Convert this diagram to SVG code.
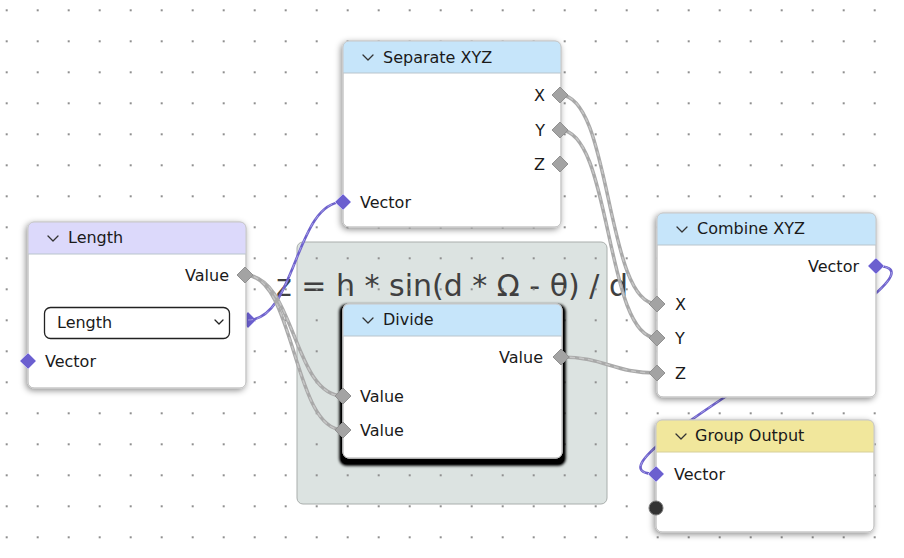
<svg xmlns="http://www.w3.org/2000/svg" xmlns:xlink="http://www.w3.org/1999/xlink" width="904" height="558" viewBox="0 0 904 558">
<defs>
<style>
text{font-family:"DejaVu Sans","Liberation Sans",sans-serif;font-size:16px;fill:#1a1a1a}
.title{font-size:16px}
.r{text-anchor:end}
.body{fill:#fff;stroke:#c8c8c8;stroke-width:1}
.edge{fill:none;stroke:#c8c8c8;stroke-width:1}
.sep{stroke:#b9c4cc;stroke-width:1}
.chev{fill:none;stroke:#333;stroke-width:1.3;stroke-linecap:round;stroke-linejoin:round}
.hl{fill:#dcd9fb}
.hb{fill:#c6e5fa}
.hy{fill:#f1e79c}
.sg{fill:#a3a3a3;stroke:#919191;stroke-width:1}
.sp{fill:#6b5fcf;stroke:#bdb8ef;stroke-width:1}
.cg{fill:none;stroke:#a9a9a9;stroke-width:3.5}
.cgd{fill:none;stroke:#c6c6c6;stroke-width:1.4;stroke-dasharray:5 4}
.cp{fill:none;stroke:#6e62cc;stroke-width:2.6}
.cpd{fill:none;stroke:#a49ce6;stroke-width:1;stroke-dasharray:5 4}
</style>
<pattern id="grid" x="5.7" y="9.3" width="31" height="31" patternUnits="userSpaceOnUse">
<rect x="0" y="0" width="2" height="2" fill="#8f8f8f"/>
</pattern>
<filter id="sh" x="-20%" y="-20%" width="140%" height="140%">
<feDropShadow dx="-1.5" dy="2" stdDeviation="3" flood-color="#000" flood-opacity="0.45"/>
</filter>
<filter id="shsel" x="-20%" y="-20%" width="140%" height="140%">
<feMorphology in="SourceAlpha" operator="dilate" radius="2.5" result="d"/>
<feOffset in="d" dx="0" dy="4" result="o"/>
<feGaussianBlur in="o" stdDeviation="1.8" result="b"/>
<feComponentTransfer in="b" result="c"><feFuncA type="linear" slope="1.2"/></feComponentTransfer>
<feMerge><feMergeNode in="c"/><feMergeNode in="SourceGraphic"/></feMerge>
</filter>
<path id="dia" d="M0,-8 L8,0 L0,8 L-8,0 Z"/>
</defs>
<rect x="0" y="0" width="904" height="558" fill="#ffffff"/>
<g id="frame">
<rect x="297" y="242" width="310" height="262" rx="6" fill="#dce3e1" stroke="#a9aeac" stroke-width="1"/>
<text x="452" y="296" text-anchor="middle" style="font-size:30px;fill:#404040">z = h * sin(d * Ω - θ) / d</text>
</g>
<rect x="0" y="0" width="904" height="558" fill="url(#grid)"/>
<g id="connectors">
<use href="#dia" x="248" y="320" class="sp"/>
<path class="cp" d="M248 320 C 296 320, 295 202, 343 202"/>
<path class="cpd" d="M248 320 C 296 320, 295 202, 343 202"/>
<path class="cg" d="M245 275 C 295 275, 293 396, 343 396"/>
<path class="cgd" d="M245 275 C 295 275, 293 396, 343 396"/>
<path class="cg" d="M245 275 C 295 275, 293 430, 343 430"/>
<path class="cgd" d="M245 275 C 295 275, 293 430, 343 430"/>
<path class="cg" d="M560 95 C 612 95, 605 304, 657 304"/>
<path class="cgd" d="M560 95 C 612 95, 605 304, 657 304"/>
<path class="cg" d="M560 130 C 612 130, 605 338, 657 338"/>
<path class="cgd" d="M560 130 C 612 130, 605 338, 657 338"/>
<path class="cg" d="M561 357 C 605 357, 613 373, 657 373"/>
<path class="cgd" d="M561 357 C 605 357, 613 373, 657 373"/>
<path class="cp" d="M876 266 C 976 266, 556 474, 656 474"/>
<path class="cpd" d="M876 266 C 976 266, 556 474, 656 474"/>
</g>
<g id="node-length">
<rect class="body" x="28" y="222" width="218" height="166" rx="6" filter="url(#sh)"/>
<path class="hl" d="M28,254 V228 Q28,222 34,222 H240 Q246,222 246,228 V254 Z"/>
<line class="sep" x1="28" y1="254" x2="246" y2="254"/>
<rect class="edge" x="28" y="222" width="218" height="166" rx="6"/>
<polyline class="chev" points="48,236 53,241 58,236"/>
<text class="title" x="68" y="243">Length</text>
<text class="r" x="229" y="281">Value</text>
<rect x="44.5" y="307.5" width="185" height="31" rx="6" fill="#fff" stroke="#222" stroke-width="1.3"/>
<text x="57" y="328">Length</text>
<polyline class="chev" points="215,320 219,324 223,320" style="stroke:#222"/>
<text x="45" y="367">Vector</text>
<use href="#dia" x="245" y="275" class="sg"/>
<use href="#dia" x="28" y="361" class="sp"/>
</g>
<g id="node-separate">
<rect class="body" x="343" y="41" width="218" height="186" rx="6" filter="url(#sh)"/>
<path class="hb" d="M343,73 V47 Q343,41 349,41 H555 Q561,41 561,47 V73 Z"/>
<line class="sep" x1="343" y1="73" x2="561" y2="73"/>
<rect class="edge" x="343" y="41" width="218" height="186" rx="6"/>
<polyline class="chev" points="363,55 368,60 373,55"/>
<text class="title" x="383" y="63">Separate XYZ</text>
<text class="r" x="545" y="101">X</text>
<text class="r" x="545" y="136">Y</text>
<text class="r" x="545" y="170">Z</text>
<text x="360" y="208">Vector</text>
<use href="#dia" x="560" y="95" class="sg"/>
<use href="#dia" x="560" y="130" class="sg"/>
<use href="#dia" x="560" y="164" class="sg"/>
<use href="#dia" x="343" y="202" class="sp"/>
</g>
<g id="node-divide">
<rect class="body" x="343" y="304" width="219" height="154" rx="6" filter="url(#shsel)"/>
<path class="hb" d="M343,336 V310 Q343,304 349,304 H556 Q562,304 562,310 V336 Z"/>
<line class="sep" x1="343" y1="336" x2="562" y2="336"/>
<rect class="edge" x="343" y="304" width="219" height="154" rx="6"/>
<polyline class="chev" points="363,318 368,323 373,318"/>
<text class="title" x="383" y="325">Divide</text>
<text class="r" x="543" y="363">Value</text>
<text x="360" y="402">Value</text>
<text x="360" y="436">Value</text>
<use href="#dia" x="561" y="357" class="sg"/>
<use href="#dia" x="343" y="396" class="sg"/>
<use href="#dia" x="343" y="430" class="sg"/>
</g>
<g id="node-combine">
<rect class="body" x="657" y="213" width="219" height="184" rx="6" filter="url(#sh)"/>
<path class="hb" d="M657,245 V219 Q657,213 663,213 H870 Q876,213 876,219 V245 Z"/>
<line class="sep" x1="657" y1="245" x2="876" y2="245"/>
<rect class="edge" x="657" y="213" width="219" height="184" rx="6"/>
<polyline class="chev" points="677,227 682,232 687,227"/>
<text class="title" x="697" y="234">Combine XYZ</text>
<text class="r" x="859" y="272">Vector</text>
<text x="675" y="310">X</text>
<text x="675" y="344">Y</text>
<text x="675" y="379">Z</text>
<use href="#dia" x="876" y="266" class="sp"/>
<use href="#dia" x="657" y="304" class="sg"/>
<use href="#dia" x="657" y="338" class="sg"/>
<use href="#dia" x="657" y="373" class="sg"/>
</g>
<g id="node-group-output">
<rect class="body" x="656" y="420" width="218" height="112" rx="6" filter="url(#sh)"/>
<path class="hy" d="M656,452 V426 Q656,420 662,420 H868 Q874,420 874,426 V452 Z"/>
<line class="sep" x1="656" y1="452" x2="874" y2="452" style="stroke:#d6cf9a"/>
<rect class="edge" x="656" y="420" width="218" height="112" rx="6"/>
<polyline class="chev" points="676,434 681,439 686,434"/>
<text class="title" x="695" y="441">Group Output</text>
<text x="674" y="480">Vector</text>
<use href="#dia" x="656" y="474" class="sp"/>
<circle cx="656" cy="508" r="7" fill="#333" stroke="#777" stroke-width="1"/>
</g>
</svg>
